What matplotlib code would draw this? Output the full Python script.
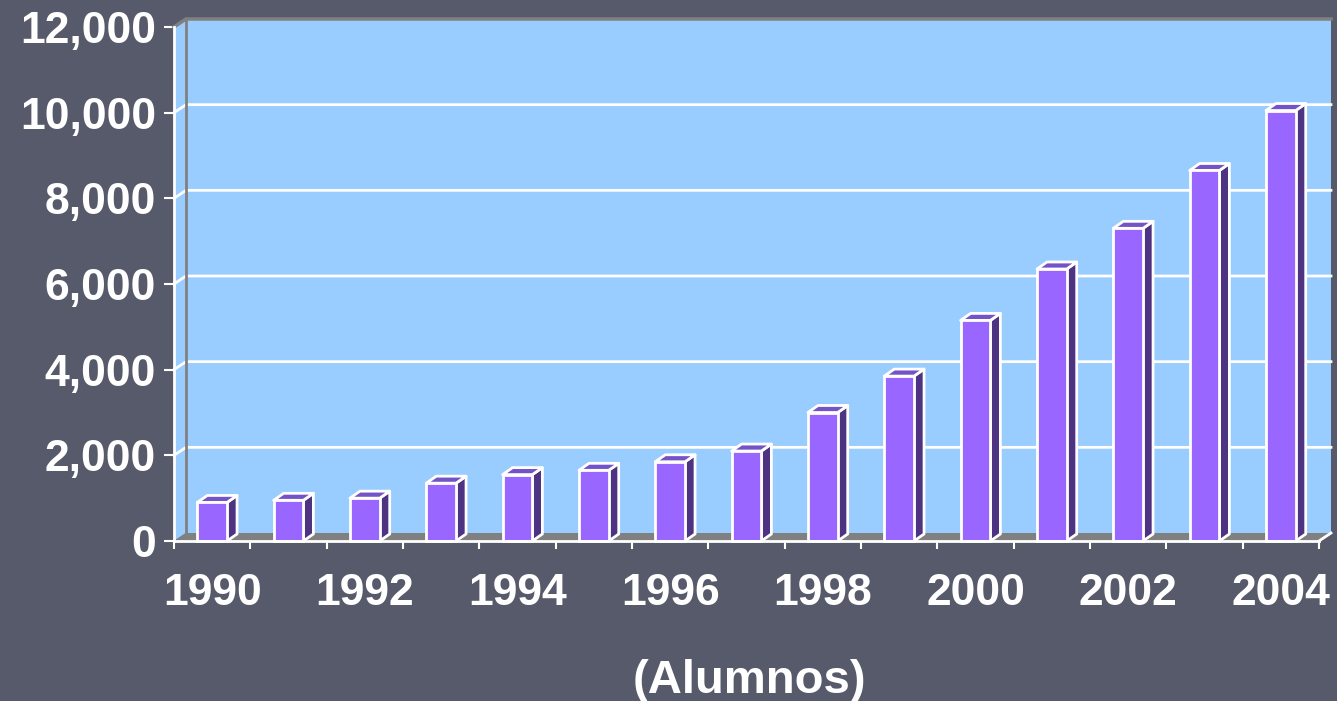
import matplotlib
matplotlib.use("Agg")
import matplotlib.pyplot as plt
from matplotlib.patches import Polygon, Rectangle
from matplotlib.ticker import FuncFormatter

years = list(range(1990, 2005))
alumnos = [900, 950, 1000, 1350, 1550, 1650, 1850, 2100,
           3000, 3850, 5150, 6350, 7300, 8650, 10050]
y_ticks = [0, 2000, 4000, 6000, 8000, 10000, 12000]
x_title = "(Alumnos)"

BG = "#575a6a"
WALL = "#99ccff"
FLOOR = "#808080"
BAR_FRONT = "#9966ff"
BAR_SIDE = "#4d3382"
BAR_TOP = "#7452c8"

plt.rcParams['font.family'] = ['Liberation Sans', 'DejaVu Sans']
plt.rcParams['font.weight'] = 'bold'

fig = plt.figure(figsize=(13.37, 7.01), dpi=100, facecolor=BG)
ax = fig.add_axes([174 / 1337, 160 / 701, 1145 / 1337, 514 / 701])
x0, x1 = -0.5, len(years) - 0.5
y0, y1 = y_ticks[0], y_ticks[-1]
ax.set_xlim(x0, x1)
ax.set_ylim(y0, y1)
ax.patch.set_visible(False)

# depth of the fake 3d box, in pixels
wall_dx, wall_dy = 12, 8
bar_dx, bar_dy = 10, 7


def shift(x, y, dx, dy):
    px, py = ax.transData.transform((x, y))
    return tuple(ax.transData.inverted().transform((px + dx, py + dy)))


def back(x, y):
    return shift(x, y, wall_dx, wall_dy)


# back wall, left side wall and floor
ax.add_patch(Polygon([back(x0, y0), back(x1, y0), back(x1, y1), back(x0, y1)],
                     closed=True, fc=WALL, ec="none", zorder=1, clip_on=False))
ax.add_patch(Polygon([(x0, y0), (x0, y1), back(x0, y1), back(x0, y0)],
                     closed=True, fc=WALL, ec="none", zorder=1, clip_on=False))

for v in y_ticks[1:-1]:
    pts = [(x0, v), back(x0, v), back(x1, v)]
    ax.plot([p[0] for p in pts], [p[1] for p in pts], color="white",
            lw=2, zorder=2, clip_on=False)

edge = [(x0, y1), back(x0, y1), back(x1, y1)]
ax.plot([p[0] for p in edge], [p[1] for p in edge], color=FLOOR, lw=2.5,
        zorder=2, clip_on=False)
ax.plot([back(x0, y0)[0], back(x0, y1)[0]], [back(x0, y0)[1], back(x0, y1)[1]],
        color=FLOOR, lw=2, zorder=2, clip_on=False)

ax.add_patch(Polygon([(x0, y0), (x1, y0), back(x1, y0), back(x0, y0)],
                     closed=True, fc=FLOOR, ec="none", zorder=3, clip_on=False))
ax.plot([x1, back(x1, y0)[0]], [y0, back(x1, y0)[1]], color="white", lw=2,
        zorder=3, clip_on=False)

# bars
w = 0.39
for i, v in enumerate(alumnos):
    l, r = i - w / 2, i + w / 2
    ax.add_patch(Rectangle((l, 0), w, v, fc=BAR_FRONT, ec="white", lw=2,
                           zorder=5, clip_on=False))
    ax.add_patch(Polygon([(r, 0), (r, v), shift(r, v, bar_dx, bar_dy),
                          shift(r, 0, bar_dx, bar_dy)],
                         closed=True, fc=BAR_SIDE, ec="white", lw=2,
                         joinstyle="round", zorder=4, clip_on=False))
    ax.add_patch(Polygon([(l, v), (r, v), shift(r, v, bar_dx, bar_dy),
                          shift(l, v, bar_dx, bar_dy)],
                         closed=True, fc=BAR_TOP, ec="white", lw=2,
                         joinstyle="round", zorder=4, clip_on=False))

# axes
for side in ["top", "right"]:
    ax.spines[side].set_visible(False)
for side in ["left", "bottom"]:
    ax.spines[side].set_color("white")
    ax.spines[side].set_linewidth(2)
    ax.spines[side].set_zorder(6)

ax.set_yticks(y_ticks)
ax.yaxis.set_major_formatter(FuncFormatter(lambda v, p: "{:,}".format(int(v))))
ax.tick_params(axis="y", colors="white", length=7, width=1.5, pad=6,
               labelsize=32)

ax.set_xticks([i - 0.5 for i in range(len(years) + 1)])
ax.set_xticklabels([])
ax.set_xticks(range(0, len(years), 2), minor=True)
ax.set_xticklabels([str(y) for y in years[::2]], minor=True)
ax.tick_params(axis="x", which="major", colors="white", length=6, width=1.5)
ax.tick_params(axis="x", which="minor", colors="white", length=0, pad=23,
               labelsize=32)

fig.text(749 / 1337, 8 / 701, x_title, color="white", fontsize=34,
         fontweight="bold", ha="center", va="baseline")

fig.savefig("out.png", dpi=100, facecolor=BG)
